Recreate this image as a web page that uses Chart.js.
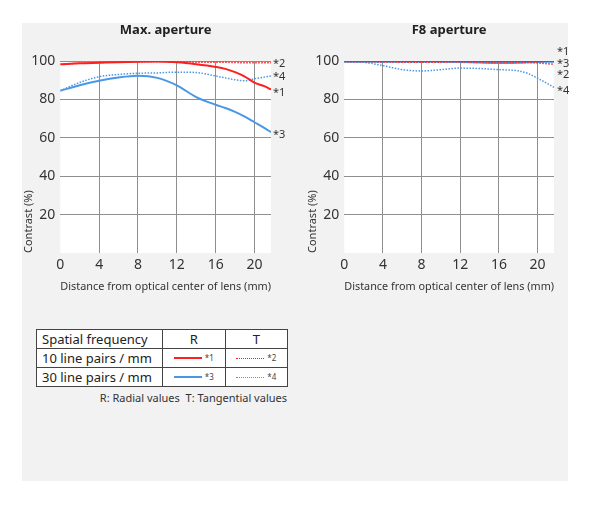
<!DOCTYPE html>
<html><head><meta charset="utf-8">
<script src="https://cdn.jsdelivr.net/npm/chart.js@4.4.1/dist/chart.umd.min.js"></script>
<style>
html,body{margin:0;padding:0;background:#fff;width:589px;height:515px;overflow:hidden;font-family:"Noto Sans",sans-serif;}
#bg{position:absolute;left:22px;top:23px;width:546px;height:458px;background:#f2f2f2;}
.cw{position:absolute;top:0;height:305px;}
#c1w{left:0;width:300px;}
#c2w{left:300px;width:289px;}
#leg{position:absolute;left:36px;top:329px;border-collapse:collapse;table-layout:fixed;font-size:13px;color:#222;background:#fff;}
#leg td{border:1px solid #444;height:18px;padding:0 0 0 5px;line-height:17px;white-space:nowrap;}
#leg td.cc{text-align:center;padding:0;}
.smp{display:flex;align-items:center;justify-content:center;gap:3px;}
.ln{display:inline-block;width:28px;height:0;}
.sn{font-size:8px;color:#444;line-height:8px;}
#note{position:absolute;right:302px;top:390px;font-size:11px;color:#333;white-space:nowrap;}
</style></head>
<body>
<div id="bg"></div>
<div class="cw" id="c1w"><canvas id="c1"></canvas></div>
<div class="cw" id="c2w"><canvas id="c2"></canvas></div>
<table id="leg"></table>
<div id="note">R: Radial values&nbsp; T: Tangential values</div>
<script>
// ---- data ----
const distances = [0, 2, 4, 6, 8, 10, 12, 14, 16, 17, 18, 19, 20, 21, 21.7];
const xTicks = [0, 4, 8, 12, 16, 20];
const yTicks = [20, 40, 60, 80, 100];
const seriesNames = ['*1', '*2', '*3', '*4'];
// Max. aperture
const maxR10 = [98.3, 98.8, 99.1, 99.4, 99.6, 99.7, 99.3, 98.3, 96.9, 95.9, 94.2, 91.9, 88.7, 86.9, 85.2];
const maxT10 = [98.3, 98.8, 99.2, 99.5, 99.6, 99.6, 99.5, 99.4, 99.3, 99.3, 99.2, 99.1, 99.1, 99.1, 99.1];
const maxR30 = [84.5, 87.4, 89.7, 91.4, 92.3, 91.2, 87.3, 81.2, 77.2, 75.5, 73.5, 71.0, 68.1, 65.2, 62.9];
const maxT30 = [84.5, 88.8, 91.8, 93.0, 93.6, 93.8, 94.2, 94.0, 92.2, 91.2, 90.2, 89.7, 90.8, 91.6, 92.2];
// F8 aperture
const f8R10 = [100, 100, 100, 100, 100, 100, 100, 100, 100, 100, 100, 100, 100, 100, 100];
const f8T10 = [99.6, 99.6, 99.5, 99.4, 99.4, 99.4, 99.5, 99.3, 99.3, 99.3, 99.3, 99.2, 99.0, 98.6, 98.3];
const f8R30 = [99.6, 99.6, 99.6, 99.6, 99.6, 99.6, 99.5, 99.2, 99.0, 99.0, 99.1, 99.3, 99.5, 99.6, 99.6];
const f8T30 = [99.6, 99.3, 97.6, 95.5, 94.8, 95.5, 96.3, 96.1, 95.5, 95.3, 94.9, 93.5, 91.0, 88.3, 86.3];
const freqLabels = ['10 line pairs / mm', '30 line pairs / mm'];

// ---- styles ----
const RED = '#ff1f1f', BLUE = '#4a97e8', GRID = '#8e8e8e', TXT = '#333';
const FONT = '"Noto Sans", sans-serif';
const seriesStyle = [
  {color: RED, width: 2, dash: []},
  {color: RED, width: 1.5, dash: [1.5, 1.5]},
  {color: BLUE, width: 2, dash: []},
  {color: BLUE, width: 1.5, dash: [1.5, 1.5]}
];

const plotBg = {id: 'plotBg', beforeDraw(chart) {
  const {ctx, chartArea: a} = chart;
  ctx.save(); ctx.fillStyle = '#fff'; ctx.fillRect(a.left, a.top, a.width, a.height); ctx.restore();
}};
const endLabels = {id: 'endLabels', afterDatasetsDraw(chart, args, o) {
  const ctx = chart.ctx, xs = chart.scales.x, ys = chart.scales.y;
  ctx.save();
  ctx.font = '11px ' + FONT; ctx.fillStyle = TXT; ctx.textBaseline = 'middle'; ctx.textAlign = 'left';
  chart.data.datasets.forEach((ds, i) => {
    const last = ds.data[ds.data.length - 1];
    ctx.fillText(ds.label, xs.right + o.dx, ys.getPixelForValue(last.y) + o.offsets[i]);
  });
  ctx.restore();
}};

function makeChart(id, title, series, pad, labelOpts) {
  const datasets = series.map((vals, i) => ({
    label: seriesNames[i],
    data: distances.map((d, k) => ({x: d, y: vals[k]})),
    borderColor: seriesStyle[i].color,
    borderWidth: seriesStyle[i].width,
    borderDash: seriesStyle[i].dash,
    pointRadius: 0,
    cubicInterpolationMode: 'monotone',
    fill: false
  }));
  return new Chart(document.getElementById(id), {
    type: 'line',
    data: {datasets},
    plugins: [plotBg, endLabels],
    options: {
      responsive: true, maintainAspectRatio: false, animation: false,
      layout: {padding: pad},
      plugins: {
        legend: {display: false}, tooltip: {enabled: false},
        title: {display: true, text: title, fullSize: false, color: '#222',
          font: {family: FONT, size: 13, weight: 'bold'}, padding: {top: 8, bottom: 23.4}},
        endLabels: labelOpts
      },
      scales: {
        x: {type: 'linear', min: 0, max: 21.7,
          afterBuildTicks: s => { s.ticks = xTicks.map(v => ({value: v})); },
          afterFit: s => { s.height = 44; },
          grid: {drawTicks: false, color: c => (c.tick && c.tick.value === 0) ? 'rgba(0,0,0,0)' : GRID, lineWidth: 1},
          border: {display: false},
          ticks: {color: TXT, font: {family: FONT, size: 14}, padding: 4, maxRotation: 0},
          title: {display: true, text: 'Distance from optical center of lens (mm)', color: TXT,
            font: {family: FONT, size: 11}, padding: {top: 0, bottom: 4}}
        },
        y: {type: 'linear', min: 0, max: 100,
          afterBuildTicks: s => { s.ticks = yTicks.map(v => ({value: v})); },
          afterFit: s => { s.width = 38.3; },
          grid: {drawTicks: false, color: GRID, lineWidth: 1},
          border: {display: false},
          ticks: {color: TXT, font: {family: FONT, size: 14}, padding: 5},
          title: {display: true, text: 'Contrast (%)', align: 'start', color: TXT,
            font: {family: FONT, size: 11}, padding: {top: 0, bottom: 0}}
        }
      }
    }
  });
}

makeChart('c1', 'Max. aperture', [maxR10, maxT10, maxR30, maxT30],
  {left: 22, right: 29, top: 14, bottom: 8}, {dx: 2, offsets: [3, 1.6, 3, 0.7]});
makeChart('c2', 'F8 aperture', [f8R10, f8T10, f8R30, f8T30],
  {left: 6, right: 35, top: 14, bottom: 8}, {dx: 3, offsets: [-9.3, 10.7, 2.5, 3.2]});

// legend table
const leg = document.getElementById('leg');
const cg = document.createElement('colgroup');
[126, 62.5, 62.5].forEach(w => { const c = document.createElement('col'); c.style.width = w + 'px'; cg.appendChild(c); });
leg.appendChild(cg);
let tr = leg.insertRow();
['Spatial frequency', 'R', 'T'].forEach((t, i) => { const td = tr.insertCell(); td.textContent = t; if (i) td.className = 'cc'; });
freqLabels.forEach((lab, r) => {
  const row = leg.insertRow();
  const td0 = row.insertCell(); td0.textContent = lab;
  [0, 1].forEach(k => {
    const idx = r * 2 + k, st = seriesStyle[idx];
    const td = row.insertCell(); td.className = 'cc';
    const wrap = document.createElement('div'); wrap.className = 'smp';
    const ln = document.createElement('span'); ln.className = 'ln';
    ln.style.borderTop = k === 0 ? ('2px solid ' + st.color) : ('1px dotted ' + st.color);
    const sn = document.createElement('span'); sn.className = 'sn'; sn.textContent = seriesNames[idx];
    wrap.appendChild(ln); wrap.appendChild(sn); td.appendChild(wrap);
  });
});
</script>
</body></html>
